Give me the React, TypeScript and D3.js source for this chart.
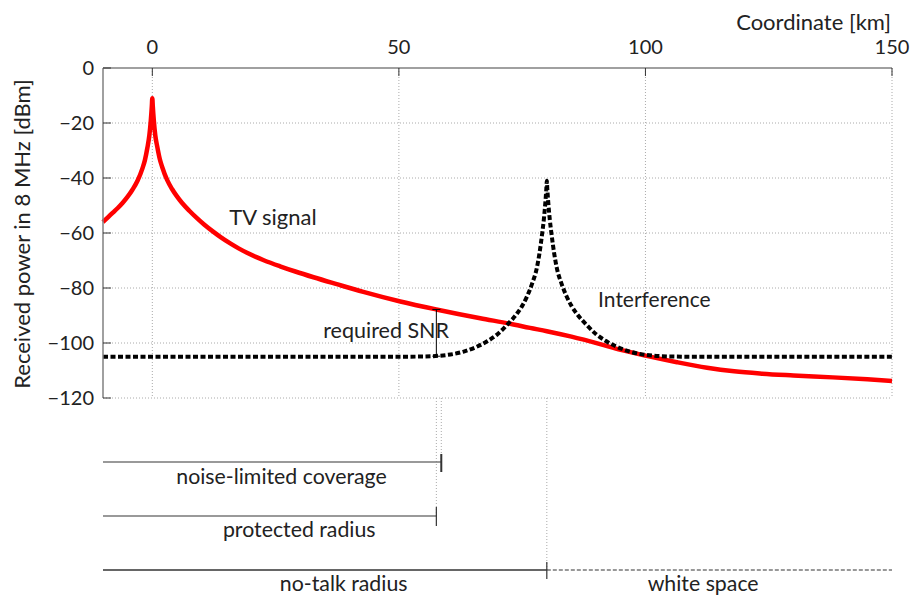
import React from "react";
import * as d3 from "d3";

// TV signal (km, dBm)
const tvKm = [-10, -9, -8, -7, -6, -5, -4, -3, -2, -1.5, -1, -0.6, -0.3, -0.1, 0, 0.1, 0.3, 0.6, 1, 1.5, 2, 3, 4, 5, 6, 7.5, 9, 10.5, 12.4, 14, 15.8, 17.5, 19.2, 21, 22.6, 25.9, 29, 32.7, 37.4, 42.8, 50.3, 57.6, 66.5, 72.6, 76.6, 80, 85, 90.8, 95, 100, 106.4, 112.5, 118, 123.2, 130, 138, 145, 150];
const tvDbm = [-56, -54.3, -52.6, -50.9, -49, -46.8, -44.2, -41, -36.5, -33.5, -29, -24.5, -19, -14, -11, -14, -19, -24.5, -28.6, -33, -36, -40.7, -44, -46.7, -49, -51.9, -54.5, -56.9, -59.6, -61.7, -63.8, -65.6, -67.2, -68.7, -69.9, -72.1, -74, -76.1, -78.6, -81.4, -84.9, -87.8, -91, -93, -94.5, -95.7, -97.7, -100.4, -102.5, -104.6, -107, -109, -110.3, -111.1, -111.8, -112.5, -113.2, -113.8];

// interference + noise (km, dBm)
const intKm = [-10, 40, 50, 55, 60, 63, 66, 68, 70, 72, 74, 75, 76, 77, 78, 78.5, 79, 79.4, 79.7, 79.9, 80, 80.1, 80.3, 80.6, 81, 81.5, 82, 83, 84, 85, 86, 88, 90, 92, 94, 97, 100, 105, 110, 150];
const intDbm = [-105, -105, -105, -104.9, -104.3, -103.2, -101.2, -99.3, -96.8, -93.3, -89.2, -86.5, -83, -78.5, -72.5, -67.5, -61, -55, -49, -44, -41, -44, -49, -55, -61, -67.5, -72.5, -78.5, -83, -86.5, -89.2, -93.3, -96.8, -99.3, -101.2, -103.2, -104.3, -104.9, -105, -105];

const xTicks = [0, 50, 100, 150];
const yTicks = [0, -20, -40, -60, -80, -100, -120];

// distances marked under the plot
const noiseLimitedKm = 58.6;
const protectedKm = 57.6;
const noTalkKm = 80;
const snrTop = -87.8;
const snrBottom = -104.8;

const W = 913;
const H = 599;
const margin = { top: 68, right: 21, bottom: 201, left: 103 };

const font = "Lato, 'Open Sans', sans-serif";
const ink = "#222";

export default function App() {
  const x = d3.scaleLinear().domain([-10, 150]).range([margin.left, W - margin.right]);
  const y = d3.scaleLinear().domain([-120, 0]).range([H - margin.bottom, margin.top]);

  const line = d3
    .line<[number, number]>()
    .x((d) => x(d[0]))
    .y((d) => y(d[1]))
    .curve(d3.curveMonotoneX);

  const tv = tvKm.map((k, i) => [k, tvDbm[i]] as [number, number]);
  const intf = intKm.map((k, i) => [k, intDbm[i]] as [number, number]);

  const x0 = x.range()[0];
  const x1 = x.range()[1];
  const y0 = y.range()[0];
  const y1 = y.range()[1];

  const grid = "#aaa";
  const barY1 = 462;
  const barY2 = 516;
  const barY3 = 570;

  return (
    <svg
      width={W}
      height={H}
      style={{ position: "absolute", left: 0, top: 0, background: "#fff" }}
      fontFamily={font}
    >
      {/* grid */}
      {yTicks.filter((t) => t !== 0).map((t) => (
        <line key={"gy" + t} x1={x0} x2={x1} y1={y(t)} y2={y(t)} stroke={grid} strokeWidth={1} strokeDasharray="1 2" />
      ))}
      {xTicks.map((t) => (
        <line key={"gx" + t} x1={x(t)} x2={x(t)} y1={y1} y2={y0} stroke={grid} strokeWidth={1} strokeDasharray="1 2" />
      ))}

      {/* dotted drop lines below the plot */}
      <line x1={x(noiseLimitedKm)} x2={x(noiseLimitedKm)} y1={y0} y2={barY1} stroke={grid} strokeDasharray="1 2" />
      <line x1={x(protectedKm)} x2={x(protectedKm)} y1={y0} y2={barY2} stroke={grid} strokeDasharray="1 2" />
      <line x1={x(noTalkKm)} x2={x(noTalkKm)} y1={y0} y2={barY3} stroke={grid} strokeDasharray="1 2" />

      {/* curves */}
      <path d={line(tv) ?? ""} fill="none" stroke="#ff0000" strokeWidth={4.5} />
      <path d={line(intf) ?? ""} fill="none" stroke="#000" strokeWidth={4} strokeDasharray="5 2.5" />

      {/* required SNR marker */}
      <line x1={x(protectedKm)} x2={x(protectedKm)} y1={y(snrTop)} y2={y(snrBottom)} stroke="#000" strokeWidth={1} />
      <line x1={x(protectedKm) - 4} x2={x(protectedKm) + 4} y1={y(snrTop)} y2={y(snrTop)} stroke="#000" strokeWidth={1} />
      <line x1={x(protectedKm) - 4} x2={x(protectedKm) + 4} y1={y(snrBottom)} y2={y(snrBottom)} stroke="#000" strokeWidth={1} />

      {/* axes: left and top */}
      <line x1={x0} x2={x0} y1={y1} y2={y0} stroke="#808080" strokeWidth={1.5} />
      <line x1={x0} x2={x1} y1={y1} y2={y1} stroke="#808080" strokeWidth={1.5} />
      {xTicks.map((t) => (
        <g key={"tx" + t}>
          <line x1={x(t)} x2={x(t)} y1={y1} y2={y1 + 8} stroke="#333" strokeWidth={1} />
          <text x={x(t)} y={54} textAnchor="middle" fontSize={20} fill={ink}>{t}</text>
        </g>
      ))}
      {yTicks.map((t) => (
        <g key={"ty" + t}>
          <line x1={x0} x2={x0 + 8} y1={y(t)} y2={y(t)} stroke="#333" strokeWidth={1} />
          <text x={x0 - 9} y={y(t)} dy="0.35em" textAnchor="end" fontSize={20} fill={ink}>
            {t < 0 ? "\u2212" + Math.abs(t) : t}
          </text>
        </g>
      ))}
      <text x={x1 - 1} y={30} textAnchor="end" fontSize={22} fill={ink}>Coordinate [km]</text>
      <text transform={`translate(30,234) rotate(-90)`} textAnchor="middle" fontSize={22} fill={ink}>
        Received power in 8 MHz [dBm]
      </text>

      {/* curve labels */}
      <text x={x(15.6)} y={225} fontSize={22} fill={ink}>TV signal</text>
      <text x={x(90.4)} y={307} fontSize={21} fill={ink}>Interference</text>
      <text x={449} y={338} textAnchor="end" fontSize={21.5} fill={ink}>required SNR</text>

      {/* range bars */}
      <line x1={x0} x2={x(noiseLimitedKm)} y1={barY1} y2={barY1} stroke="#777" strokeWidth={1.5} />
      <line x1={x(noiseLimitedKm)} x2={x(noiseLimitedKm)} y1={barY1 - 8} y2={barY1 + 10} stroke="#333" strokeWidth={2} />
      <text x={x(26.2)} y={484} textAnchor="middle" fontSize={21.3} fill={ink}>noise-limited coverage</text>

      <line x1={x0} x2={x(protectedKm)} y1={barY2} y2={barY2} stroke="#777" strokeWidth={1.5} />
      <line x1={x(protectedKm)} x2={x(protectedKm)} y1={barY2 - 9} y2={barY2 + 10} stroke="#333" strokeWidth={1.2} />
      <text x={x(29.8)} y={537} textAnchor="middle" fontSize={21.3} fill={ink}>protected radius</text>

      <line x1={x0} x2={x(noTalkKm)} y1={barY3} y2={barY3} stroke="#333" strokeWidth={1.5} />
      <line x1={x(noTalkKm)} x2={x(noTalkKm)} y1={barY3 - 8} y2={barY3 + 9} stroke="#333" strokeWidth={1.2} />
      <line x1={x(noTalkKm)} x2={x1} y1={barY3} y2={barY3} stroke="#333" strokeWidth={1.2} strokeDasharray="4 2" />
      <text x={x(38.8)} y={591} textAnchor="middle" fontSize={21.3} fill={ink}>no-talk radius</text>
      <text x={x(111.7)} y={591} textAnchor="middle" fontSize={21.3} fill={ink}>white space</text>
    </svg>
  );
}
